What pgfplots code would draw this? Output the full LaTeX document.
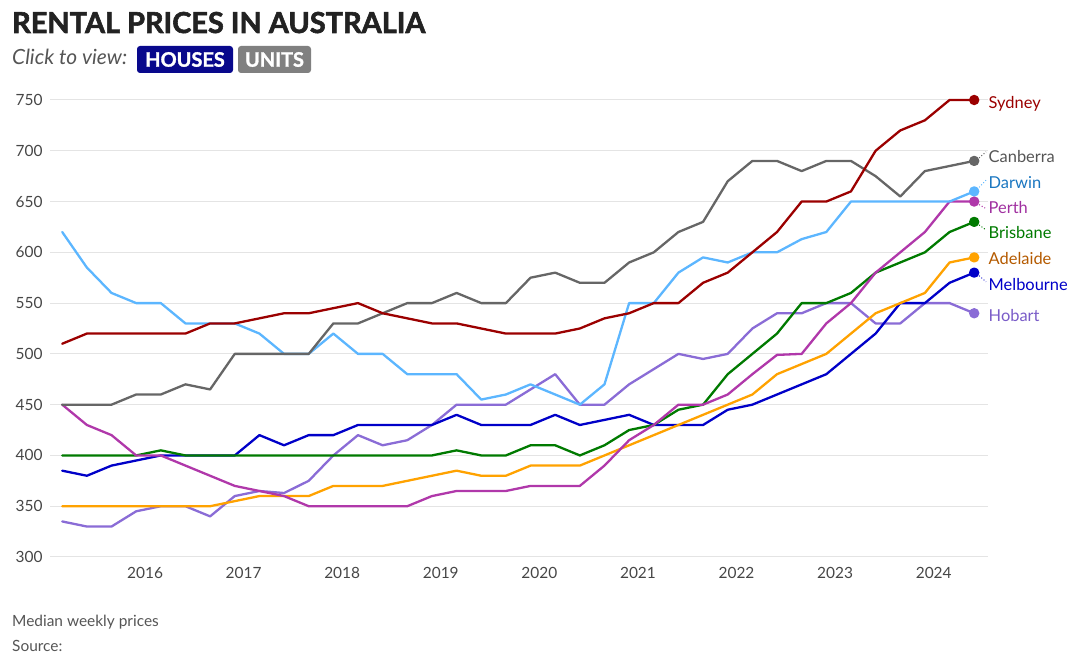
\documentclass[border=0pt]{standalone}
\usepackage{fontspec}
\setmainfont{Lato}
\usepackage{pgfplots}
\pgfplotsset{compat=1.18}
\usepackage{pgfplotstable}

\definecolor{syd}{RGB}{155,0,0}
\definecolor{can}{RGB}{102,102,102}
\definecolor{dar}{RGB}{92,182,255}
\definecolor{per}{RGB}{176,56,170}
\definecolor{bri}{RGB}{0,122,0}
\definecolor{ade}{RGB}{255,162,0}
\definecolor{mel}{RGB}{0,0,200}
\definecolor{hob}{RGB}{138,108,214}
\definecolor{canlab}{RGB}{85,85,85}
\definecolor{darlab}{RGB}{26,118,192}
\definecolor{perlab}{RGB}{160,48,160}
\definecolor{adelab}{RGB}{180,90,0}
\definecolor{hoblab}{RGB}{122,92,200}
\definecolor{titlegray}{RGB}{34,34,34}
\definecolor{subgray}{RGB}{85,85,85}
\definecolor{ticklab}{RGB}{70,70,70}
\definecolor{gridgray}{RGB}{228,228,228}
\definecolor{navybtn}{RGB}{8,8,140}
\definecolor{graybtn}{RGB}{128,128,128}

% Median weekly rent (AUD) per quarter, houses
\pgfplotstableread{
x       syd can dar per bri ade mel hob
2015.16 510 450 620 450 400 350 385 335
2015.41 520 450 585 430 400 350 380 330
2015.66 520 450 560 420 400 350 390 330
2015.91 520 460 550 400 400 350 395 345
2016.16 520 460 550 400 405 350 400 350
2016.41 520 470 530 390 400 350 400 350
2016.66 530 465 530 380 400 350 400 340
2016.91 530 500 530 370 400 355 400 360
2017.16 535 500 520 365 400 360 420 365
2017.41 540 500 500 360 400 360 410 363
2017.66 540 500 500 350 400 360 420 375
2017.91 545 530 520 350 400 370 420 400
2018.16 550 530 500 350 400 370 430 420
2018.41 540 540 500 350 400 370 430 410
2018.66 535 550 480 350 400 375 430 415
2018.91 530 550 480 360 400 380 430 430
2019.16 530 560 480 365 405 385 440 450
2019.41 525 550 455 365 400 380 430 450
2019.66 520 550 460 365 400 380 430 450
2019.91 520 575 470 370 410 390 430 465
2020.16 520 580 460 370 410 390 440 480
2020.41 525 570 450 370 400 390 430 450
2020.66 535 570 470 390 410 400 435 450
2020.91 540 590 550 415 425 410 440 470
2021.16 550 600 550 430 430 420 430 485
2021.41 550 620 580 450 445 430 430 500
2021.66 570 630 595 450 450 440 430 495
2021.91 580 670 590 460 480 450 445 500
2022.16 600 690 600 480 500 460 450 525
2022.41 620 690 600 499 520 480 460 540
2022.66 650 680 613 500 550 490 470 540
2022.91 650 690 620 530 550 500 480 550
2023.16 660 690 650 550 560 520 500 550
2023.41 700 675 650 580 580 540 520 530
2023.66 720 655 650 600 590 550 550 530
2023.91 730 680 650 620 600 560 550 550
2024.16 750 685 650 650 620 590 570 550
2024.41 750 690 660 650 630 595 580 540
}\rents

\begin{document}
\begin{tikzpicture}
\path[use as bounding box] (0bp,0bp) rectangle (1080bp,672bp);

\begin{scope}[x=1bp,y=1bp]
% heading
\node[anchor=base west, inner sep=0, text=titlegray] at (12,639)
  {\resizebox{413bp}{!}{\fontspec{Lato}[FakeBold=2]\bfseries RENTAL PRICES IN AUSTRALIA}};
\node[anchor=base west, inner sep=0, text=subgray] at (12,607)
  {\fontsize{21}{21}\selectfont\itshape Click to view:};
\draw[fill=navybtn, draw=none, rounded corners=3bp] (137,599) rectangle (233,626);
\node[text=white, inner sep=0] at (185,612.5) {\fontsize{20}{20}\selectfont\fontspec{Lato}[FakeBold=1.5]\bfseries HOUSES};
\draw[fill=graybtn, draw=none, rounded corners=3bp] (238,599) rectangle (311,626);
\node[text=white, inner sep=0] at (274.5,612.5) {\fontsize{20}{20}\selectfont\fontspec{Lato}[FakeBold=1.5]\bfseries UNITS};

% footer
\node[anchor=base west, inner sep=0, text=subgray] at (12,46)
  {\fontsize{15.5}{15.5}\selectfont Median weekly prices};
\node[anchor=base west, inner sep=0, text=subgray] at (12,21)
  {\fontsize{15.5}{15.5}\selectfont Source:};
\end{scope}

\begin{axis}[
  at={(50bp,115bp)}, anchor=south west,
  scale only axis, width=938bp, height=457bp,
  xmin=2015.036, xmax=2024.55, ymin=300, ymax=750,
  axis line style={draw=none},
  ytick={300,350,...,750},
  xtick={2016,...,2024},
  xticklabel style={/pgf/number format/1000 sep={}, yshift=-7bp},
  yticklabel style={xshift=-4bp},
  /pgf/number format/assume math mode=true,
  ymajorgrids, grid style={draw=gridgray, line width=1bp},
  major tick length=0,
  tick label style={font=\fontsize{15.5}{15.5}\selectfont, text=ticklab},
  clip=false,
  every axis plot/.append style={line width=2.3bp, line join=round, line cap=round},
]
\addplot[hob, no marks] table[x=x, y=hob] {\rents};
\addplot[mel, no marks] table[x=x, y=mel] {\rents};
\addplot[ade, no marks] table[x=x, y=ade] {\rents};
\addplot[bri, no marks] table[x=x, y=bri] {\rents};
\addplot[per, no marks] table[x=x, y=per] {\rents};
\addplot[dar, no marks] table[x=x, y=dar] {\rents};
\addplot[can, no marks] table[x=x, y=can] {\rents};
\addplot[syd, no marks] table[x=x, y=syd] {\rents};

% end-of-series dots
\addplot[hob, only marks, mark=*, mark size=4bp] coordinates {(2024.41,540)};
\addplot[mel, only marks, mark=*, mark size=4bp] coordinates {(2024.41,580)};
\addplot[ade, only marks, mark=*, mark size=4bp] coordinates {(2024.41,595)};
\addplot[bri, only marks, mark=*, mark size=4bp] coordinates {(2024.41,630)};
\addplot[per, only marks, mark=*, mark size=4bp] coordinates {(2024.41,650)};
\addplot[dar, only marks, mark=*, mark size=4bp] coordinates {(2024.41,660)};
\addplot[can, only marks, mark=*, mark size=4bp] coordinates {(2024.41,690)};
\addplot[syd, only marks, mark=*, mark size=4bp] coordinates {(2024.41,750)};

% leaders to the city labels
\draw[can, dotted, line width=1bp] (axis cs:2024.46,693) -- (axis cs:2024.53,699);
\draw[dar, dotted, line width=1bp] (axis cs:2024.46,664) -- (axis cs:2024.53,671);
\draw[per, dotted, line width=1bp] (axis cs:2024.46,647) -- (axis cs:2024.53,643);
\draw[bri, dotted, line width=1bp] (axis cs:2024.46,627) -- (axis cs:2024.53,622);
\draw[mel, dotted, line width=1bp] (axis cs:2024.46,577) -- (axis cs:2024.53,571);

% city labels
\begin{scope}[every node/.style={anchor=base west, inner sep=0, font=\fontsize{16.5}{16.5}\selectfont}]
\node[text=syd]    at (axis cs:2024.555,741.8) {Sydney};
\node[text=canlab] at (axis cs:2024.555,688.7) {Canberra};
\node[text=darlab] at (axis cs:2024.555,663)   {Darwin};
\node[text=perlab] at (axis cs:2024.555,638)   {Perth};
\node[text=bri]    at (axis cs:2024.555,613.8) {Brisbane};
\node[text=adelab] at (axis cs:2024.555,588.5) {Adelaide};
\node[text=mel]    at (axis cs:2024.555,562.9) {Melbourne};
\node[text=hoblab] at (axis cs:2024.555,531.7) {Hobart};
\end{scope}
\end{axis}
\end{tikzpicture}
\end{document}
